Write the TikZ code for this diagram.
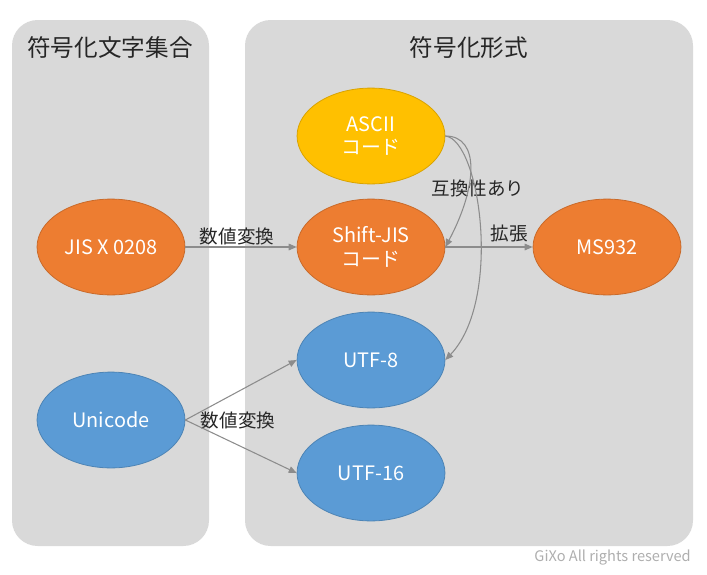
\documentclass[tikz,border=0pt]{standalone}
\usepackage{fontspec}
\setmainfont{Noto Sans CJK JP}
\usepackage{tikz}
\usetikzlibrary{positioning,shapes.geometric,arrows.meta}
\pgfdeclarelayer{background}
\pgfsetlayers{background,main}
\definecolor{gixpanel}{HTML}{D9D9D9}
\definecolor{gixorange}{HTML}{ED7D31}
\definecolor{gixyellow}{HTML}{FFC000}
\definecolor{gixblue}{HTML}{5B9BD5}
\definecolor{gixline}{HTML}{8C8C8C}
\definecolor{gixtext}{HTML}{262626}
\tikzstyle{codepanel} = [fill = gixpanel, rounded corners = 0.68cm]
\tikzstyle{paneltitle} = [text = gixtext, inner sep = 0pt, font = \fontsize{17.8}{20}\selectfont]
\tikzstyle{codenode} = [ellipse, draw, line width = 0.6pt, text = white, inner sep = 0pt, minimum width = 3.92cm, minimum height = 2.54cm, align = center, font = \fontsize{15}{18}\selectfont]
\tikzstyle{codecl1} = [draw = gixorange!85!black, fill = gixorange]
\tikzstyle{codecl2} = [draw = gixyellow!85!black, fill = gixyellow]
\tikzstyle{codecl3} = [draw = gixblue!85!black, fill = gixblue]
\tikzstyle{convedge} = [gixline, line width = 0.8pt, -{Triangle[length = 6pt, width = 5pt]}]
\tikzstyle{convlabel} = [text = gixtext, inner sep = 0pt, font = \fontsize{14}{16}\selectfont]

\begin{document}
\begin{tikzpicture}[x = 0.0265cm, y = 0.0265cm]
\useasboundingbox (0, 0) rectangle (707, -574);
\begin{pgfonlayer}{background}
\fill[codepanel] (12, -20) rectangle (209, -546);
\fill[codepanel] (245, -20) rectangle (693, -546);
\end{pgfonlayer}
\node[paneltitle] (charset) at (110, -48) {符号化文字集合};
\node[paneltitle] (encform) at (469, -48) {符号化形式};
\node[codecl2, codenode] (ascii) at (371, -136) {ASCII\\コード};
\node[codecl1, codenode] (sjis) at (371, -247) {Shift-JIS\\コード};
\node[codecl1, codenode] (ms932) at (607, -247) {MS932};
\node[codecl1, codenode] (jisx) at (111, -247) {JIS X 0208};
\node[codecl3, codenode] (utf8) at (371, -360) {UTF-8};
\node[codecl3, codenode] (unicode) at (111, -420) {Unicode};
\node[codecl3, codenode] (utf16) at (371, -473) {UTF-16};
\node[convlabel] (lbljis) at (237, -236) {数値変換};
\node[convlabel] (lbluni) at (238, -420) {数値変換};
\node[convlabel] (lblext) at (509, -233) {拡張};
\node[convlabel] (lblcompat) at (478, -188) {互換性あり};
\node[inner sep = 0pt, anchor = east, text = gixline!70, font = \fontsize{11}{13}\selectfont] (credit) at (691, -558) {GiXo All rights reserved};
\draw[convedge] (jisx) -- (sjis);
\draw[convedge] (sjis) -- (ms932);
\draw[convedge] (unicode.east) -- (utf8.west);
\draw[convedge] (unicode.east) -- (utf16.west);
\draw[convedge] (ascii.east) .. controls +(35, 0) and +(32, 60) .. (sjis.east);
\draw[convedge] (ascii.east) .. controls +(35, -4) and +(57, 60) .. (utf8.east);
\end{tikzpicture}
\end{document}
